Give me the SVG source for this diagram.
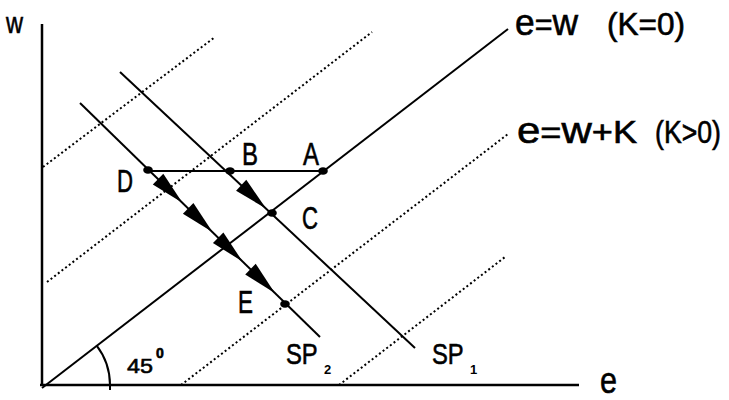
<svg xmlns="http://www.w3.org/2000/svg" xmlns:xlink="http://www.w3.org/1999/xlink" width="729" height="400" viewBox="0 0 729 400">
<style>
.ax{stroke:#000;stroke-width:2.5;fill:none}
.ln{stroke:#000;stroke-width:2;fill:none}
.dt{stroke:#000;stroke-width:2;fill:none;stroke-dasharray:2 2.6}
.t{font-family:"Liberation Sans",Arial,sans-serif;font-size:31px;fill:#000;stroke:#000;stroke-width:0.6}
.lc{font-size:36px}
.sub{font-family:"Liberation Sans",Arial,sans-serif;font-size:13px;font-weight:bold;fill:#000}
.dot{fill:#000}
</style>
<defs>
<path id="ah" d="M0,0 L-34,-7.5 L-34,7.5 Z" fill="#000"/>
</defs>
<rect width="729" height="400" fill="#fff"/>
<g id="axes">
<line class="ax" x1="42" y1="24" x2="42" y2="386"/>
<line class="ax" x1="40" y1="385" x2="579" y2="385"/>
<text class="t" x="6" y="33" style="font-size:30px" textLength="17" lengthAdjust="spacingAndGlyphs">w</text>
<text class="t lc" x="600" y="393" style="font-size:37px" textLength="17" lengthAdjust="spacingAndGlyphs">e</text>
</g>
<g id="connectors">
<line class="ln" x1="42" y1="388" x2="508" y2="29"/>
<line class="dt" x1="43" y1="167" x2="215" y2="37"/>
<line class="dt" x1="47" y1="282" x2="372" y2="32"/>
<line class="dt" x1="181" y1="385" x2="508" y2="134"/>
<line class="dt" x1="339" y1="385" x2="505" y2="257"/>
<line class="ln" x1="120" y1="72" x2="415" y2="348"/>
<line class="ln" x1="80" y1="103" x2="320" y2="337"/>
<line class="ln" x1="148" y1="171" x2="323" y2="171"/>
<use xlink:href="#ah" transform="translate(266,208.5) rotate(43.1)"/>
<use xlink:href="#ah" transform="translate(182.4,202.8) rotate(44.3)"/>
<use xlink:href="#ah" transform="translate(212.5,232.1) rotate(44.3)"/>
<use xlink:href="#ah" transform="translate(242.5,261.5) rotate(44.3)"/>
<use xlink:href="#ah" transform="translate(274.8,292.9) rotate(44.3)"/>
</g>
<g id="angle">
<path class="ln" d="M110,385 A65,65 0 0 0 96.5,345.3 M110,385 L110,390"/>
<text class="t" x="127" y="373" style="font-size:21px" textLength="26" lengthAdjust="spacingAndGlyphs">45</text>
<text class="t" x="156" y="358" style="font-size:14px;font-weight:bold">0</text>
</g>
<g id="line-k0">
<text class="t" x="515" y="35" textLength="63" lengthAdjust="spacingAndGlyphs"><tspan class="lc">e</tspan>=<tspan class="lc">w</tspan></text>
<text class="t" x="607" y="35" textLength="78" lengthAdjust="spacingAndGlyphs">(K=0)</text>
</g>
<g id="line-kpos">
<text class="t" x="517" y="143" textLength="120" lengthAdjust="spacingAndGlyphs"><tspan class="lc">e</tspan>=<tspan class="lc">w</tspan>+K</text>
<text class="t" transform="translate(655,143) scale(0.86,1)" x="0" y="0">(K&gt;0)</text>
</g>
<g id="point-A">
<ellipse class="dot" cx="323" cy="171" rx="4.8" ry="3.8"/>
<text class="t" x="303" y="165" textLength="16" lengthAdjust="spacingAndGlyphs">A</text>
</g>
<g id="point-B">
<ellipse class="dot" cx="230" cy="171" rx="4.8" ry="3.8"/>
<text class="t" x="242" y="165" textLength="16" lengthAdjust="spacingAndGlyphs">B</text>
</g>
<g id="point-C">
<ellipse class="dot" cx="272" cy="213" rx="4.8" ry="3.8"/>
<text class="t" x="302" y="229" textLength="16" lengthAdjust="spacingAndGlyphs">C</text>
</g>
<g id="point-D">
<ellipse class="dot" cx="148" cy="170" rx="4.8" ry="3.8"/>
<text class="t" x="117" y="192" textLength="16" lengthAdjust="spacingAndGlyphs">D</text>
</g>
<g id="point-E">
<ellipse class="dot" cx="285" cy="304" rx="4.8" ry="3.8"/>
<text class="t" x="238" y="313" textLength="15" lengthAdjust="spacingAndGlyphs">E</text>
</g>
<g id="SP1">
<text class="t" transform="translate(432,364) scale(0.82,1)" x="0" y="0" style="font-size:29px">SP</text>
<text class="sub" x="470" y="374">1</text>
</g>
<g id="SP2">
<text class="t" transform="translate(286,364) scale(0.82,1)" x="0" y="0" style="font-size:29px">SP</text>
<text class="sub" x="324" y="374">2</text>
</g>
</svg>
